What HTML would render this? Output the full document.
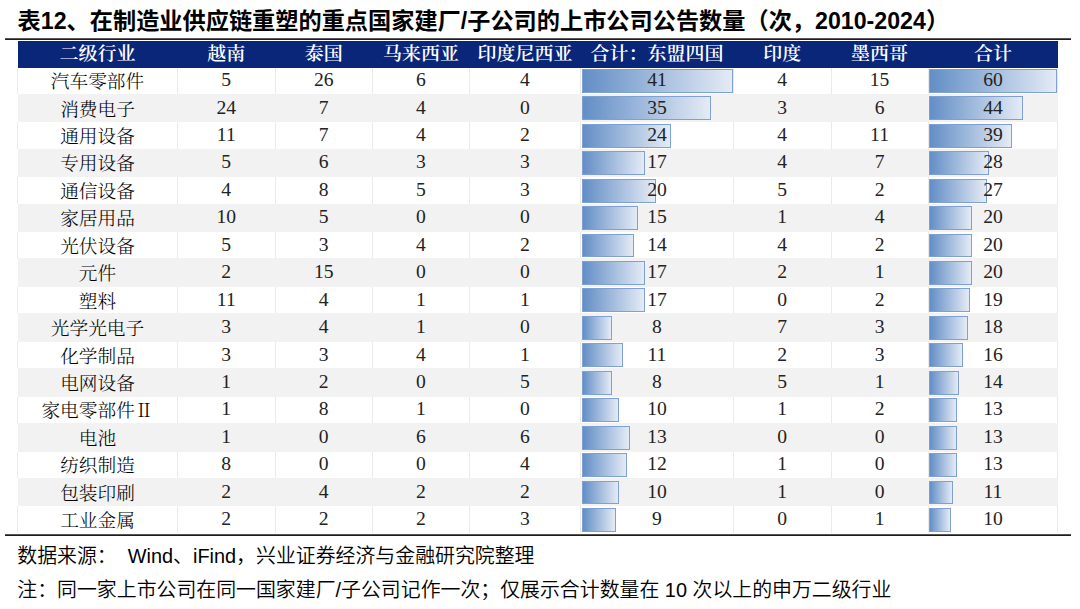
<!DOCTYPE html><html><head><meta charset="utf-8"><style>
*{margin:0;padding:0;box-sizing:border-box}
html,body{width:1080px;height:609px;background:#fff;overflow:hidden;position:relative}
.t{position:absolute;left:17.6px;top:5.8px;font:bold 23.2px/30px "Liberation Sans","Noto Sans CJK SC",sans-serif;color:#000;white-space:nowrap}
.ln{position:absolute;left:5px;width:1066px;height:1.3px;background:#1a1a1a}
.hd{position:absolute;top:41.10px;height:27.10px;background:#092679}
.hc{position:absolute;height:30px;line-height:30px;text-align:center;color:#fff;font-size:19.00px;font-family:"Liberation Serif","Noto Serif CJK SC",serif;font-weight:600;white-space:nowrap;transform:scaleY(0.93);margin-top:1.3px}
.g{position:absolute;background:#f2f2f2}
.v{position:absolute;width:1px;background:#eaeaea}
.c{position:absolute;height:30px;line-height:30px;text-align:center;white-space:nowrap;color:#222;font-size:19.60px;font-family:"Liberation Serif","Noto Serif CJK SC",serif}
.k{font-size:18.70px;font-family:"Liberation Serif","Noto Serif CJK SC",serif;font-weight:300;color:#000;margin-top:2px}
.b{position:absolute;border:1px solid #7fa0d2;background:linear-gradient(to right,#638ec6,#e4ebf5)}
.f{position:absolute;left:17.3px;font:350 19.9px/26px "Liberation Sans","Noto Sans CJK SC",sans-serif;color:#000;white-space:nowrap}

</style></head><body>
<div class="t">表12、在制造业供应链重塑的重点国家建厂/子公司的上市公司公告数量（次，2010-2024）</div>
<div class="ln" style="top:38.3px;height:1.6px;background:linear-gradient(#9a9a9a,#222 45%,#1a1a1a)"></div>
<div class="hd" style="left:17.50px;width:1040.30px"></div>
<div class="hc" style="left:17.50px;top:37.50px;width:160.00px">二级行业</div>
<div class="hc" style="left:177.50px;top:37.50px;width:97.50px">越南</div>
<div class="hc" style="left:275.00px;top:37.50px;width:97.40px">泰国</div>
<div class="hc" style="left:372.40px;top:37.50px;width:97.00px">马来西亚</div>
<div class="hc" style="left:469.40px;top:37.50px;width:111.20px">印度尼西亚</div>
<div class="hc" style="left:580.60px;top:37.50px;width:152.80px">合计：东盟四国</div>
<div class="hc" style="left:733.40px;top:37.50px;width:97.60px">印度</div>
<div class="hc" style="left:831.00px;top:37.50px;width:97.10px">墨西哥</div>
<div class="hc" style="left:928.10px;top:37.50px;width:129.70px">合计</div>
<div class="v" style="left:17.00px;top:68.20px;height:25.64px"></div>
<div class="v" style="left:177.00px;top:68.20px;height:25.64px"></div>
<div class="v" style="left:274.50px;top:68.20px;height:25.64px"></div>
<div class="v" style="left:371.90px;top:68.20px;height:25.64px"></div>
<div class="v" style="left:468.90px;top:68.20px;height:25.64px"></div>
<div class="v" style="left:580.10px;top:68.20px;height:25.64px"></div>
<div class="v" style="left:732.90px;top:68.20px;height:25.64px"></div>
<div class="v" style="left:830.50px;top:68.20px;height:25.64px"></div>
<div class="v" style="left:927.60px;top:68.20px;height:25.64px"></div>
<div class="v" style="left:1057.30px;top:68.20px;height:25.64px"></div>
<div class="g" style="left:17.50px;top:93.84px;width:1040.30px;height:28.40px"></div>
<div class="v" style="left:17.00px;top:122.24px;height:26.48px"></div>
<div class="v" style="left:177.00px;top:122.24px;height:26.48px"></div>
<div class="v" style="left:274.50px;top:122.24px;height:26.48px"></div>
<div class="v" style="left:371.90px;top:122.24px;height:26.48px"></div>
<div class="v" style="left:468.90px;top:122.24px;height:26.48px"></div>
<div class="v" style="left:580.10px;top:122.24px;height:26.48px"></div>
<div class="v" style="left:732.90px;top:122.24px;height:26.48px"></div>
<div class="v" style="left:830.50px;top:122.24px;height:26.48px"></div>
<div class="v" style="left:927.60px;top:122.24px;height:26.48px"></div>
<div class="v" style="left:1057.30px;top:122.24px;height:26.48px"></div>
<div class="g" style="left:17.50px;top:148.72px;width:1040.30px;height:28.40px"></div>
<div class="v" style="left:17.00px;top:177.12px;height:26.48px"></div>
<div class="v" style="left:177.00px;top:177.12px;height:26.48px"></div>
<div class="v" style="left:274.50px;top:177.12px;height:26.48px"></div>
<div class="v" style="left:371.90px;top:177.12px;height:26.48px"></div>
<div class="v" style="left:468.90px;top:177.12px;height:26.48px"></div>
<div class="v" style="left:580.10px;top:177.12px;height:26.48px"></div>
<div class="v" style="left:732.90px;top:177.12px;height:26.48px"></div>
<div class="v" style="left:830.50px;top:177.12px;height:26.48px"></div>
<div class="v" style="left:927.60px;top:177.12px;height:26.48px"></div>
<div class="v" style="left:1057.30px;top:177.12px;height:26.48px"></div>
<div class="g" style="left:17.50px;top:203.60px;width:1040.30px;height:28.40px"></div>
<div class="v" style="left:17.00px;top:232.00px;height:26.48px"></div>
<div class="v" style="left:177.00px;top:232.00px;height:26.48px"></div>
<div class="v" style="left:274.50px;top:232.00px;height:26.48px"></div>
<div class="v" style="left:371.90px;top:232.00px;height:26.48px"></div>
<div class="v" style="left:468.90px;top:232.00px;height:26.48px"></div>
<div class="v" style="left:580.10px;top:232.00px;height:26.48px"></div>
<div class="v" style="left:732.90px;top:232.00px;height:26.48px"></div>
<div class="v" style="left:830.50px;top:232.00px;height:26.48px"></div>
<div class="v" style="left:927.60px;top:232.00px;height:26.48px"></div>
<div class="v" style="left:1057.30px;top:232.00px;height:26.48px"></div>
<div class="g" style="left:17.50px;top:258.48px;width:1040.30px;height:28.40px"></div>
<div class="v" style="left:17.00px;top:286.88px;height:26.48px"></div>
<div class="v" style="left:177.00px;top:286.88px;height:26.48px"></div>
<div class="v" style="left:274.50px;top:286.88px;height:26.48px"></div>
<div class="v" style="left:371.90px;top:286.88px;height:26.48px"></div>
<div class="v" style="left:468.90px;top:286.88px;height:26.48px"></div>
<div class="v" style="left:580.10px;top:286.88px;height:26.48px"></div>
<div class="v" style="left:732.90px;top:286.88px;height:26.48px"></div>
<div class="v" style="left:830.50px;top:286.88px;height:26.48px"></div>
<div class="v" style="left:927.60px;top:286.88px;height:26.48px"></div>
<div class="v" style="left:1057.30px;top:286.88px;height:26.48px"></div>
<div class="g" style="left:17.50px;top:313.36px;width:1040.30px;height:28.40px"></div>
<div class="v" style="left:17.00px;top:341.76px;height:26.48px"></div>
<div class="v" style="left:177.00px;top:341.76px;height:26.48px"></div>
<div class="v" style="left:274.50px;top:341.76px;height:26.48px"></div>
<div class="v" style="left:371.90px;top:341.76px;height:26.48px"></div>
<div class="v" style="left:468.90px;top:341.76px;height:26.48px"></div>
<div class="v" style="left:580.10px;top:341.76px;height:26.48px"></div>
<div class="v" style="left:732.90px;top:341.76px;height:26.48px"></div>
<div class="v" style="left:830.50px;top:341.76px;height:26.48px"></div>
<div class="v" style="left:927.60px;top:341.76px;height:26.48px"></div>
<div class="v" style="left:1057.30px;top:341.76px;height:26.48px"></div>
<div class="g" style="left:17.50px;top:368.24px;width:1040.30px;height:28.40px"></div>
<div class="v" style="left:17.00px;top:396.64px;height:26.48px"></div>
<div class="v" style="left:177.00px;top:396.64px;height:26.48px"></div>
<div class="v" style="left:274.50px;top:396.64px;height:26.48px"></div>
<div class="v" style="left:371.90px;top:396.64px;height:26.48px"></div>
<div class="v" style="left:468.90px;top:396.64px;height:26.48px"></div>
<div class="v" style="left:580.10px;top:396.64px;height:26.48px"></div>
<div class="v" style="left:732.90px;top:396.64px;height:26.48px"></div>
<div class="v" style="left:830.50px;top:396.64px;height:26.48px"></div>
<div class="v" style="left:927.60px;top:396.64px;height:26.48px"></div>
<div class="v" style="left:1057.30px;top:396.64px;height:26.48px"></div>
<div class="g" style="left:17.50px;top:423.12px;width:1040.30px;height:28.40px"></div>
<div class="v" style="left:17.00px;top:451.52px;height:26.48px"></div>
<div class="v" style="left:177.00px;top:451.52px;height:26.48px"></div>
<div class="v" style="left:274.50px;top:451.52px;height:26.48px"></div>
<div class="v" style="left:371.90px;top:451.52px;height:26.48px"></div>
<div class="v" style="left:468.90px;top:451.52px;height:26.48px"></div>
<div class="v" style="left:580.10px;top:451.52px;height:26.48px"></div>
<div class="v" style="left:732.90px;top:451.52px;height:26.48px"></div>
<div class="v" style="left:830.50px;top:451.52px;height:26.48px"></div>
<div class="v" style="left:927.60px;top:451.52px;height:26.48px"></div>
<div class="v" style="left:1057.30px;top:451.52px;height:26.48px"></div>
<div class="g" style="left:17.50px;top:478.00px;width:1040.30px;height:28.40px"></div>
<div class="v" style="left:17.00px;top:506.40px;height:26.80px"></div>
<div class="v" style="left:177.00px;top:506.40px;height:26.80px"></div>
<div class="v" style="left:274.50px;top:506.40px;height:26.80px"></div>
<div class="v" style="left:371.90px;top:506.40px;height:26.80px"></div>
<div class="v" style="left:468.90px;top:506.40px;height:26.80px"></div>
<div class="v" style="left:580.10px;top:506.40px;height:26.80px"></div>
<div class="v" style="left:732.90px;top:506.40px;height:26.80px"></div>
<div class="v" style="left:830.50px;top:506.40px;height:26.80px"></div>
<div class="v" style="left:927.60px;top:506.40px;height:26.80px"></div>
<div class="v" style="left:1057.30px;top:506.40px;height:26.80px"></div>
<div class="b" style="left:582.00px;top:68.90px;width:150.90px;height:23.9px"></div>
<div class="b" style="left:929.30px;top:68.90px;width:127.50px;height:23.9px"></div>
<div class="c k" style="left:17.50px;top:65.15px;width:160.00px">汽车零部件</div>
<div class="c" style="left:177.50px;top:65.15px;width:97.50px">5</div>
<div class="c" style="left:275.00px;top:65.15px;width:97.40px">26</div>
<div class="c" style="left:372.40px;top:65.15px;width:97.00px">6</div>
<div class="c" style="left:469.40px;top:65.15px;width:111.20px">4</div>
<div class="c" style="left:580.60px;top:65.15px;width:152.80px">41</div>
<div class="c" style="left:733.40px;top:65.15px;width:97.60px">4</div>
<div class="c" style="left:831.00px;top:65.15px;width:97.10px">15</div>
<div class="c" style="left:928.10px;top:65.15px;width:129.70px">60</div>
<div class="b" style="left:582.00px;top:96.34px;width:128.89px;height:23.9px"></div>
<div class="b" style="left:929.30px;top:96.34px;width:93.50px;height:23.9px"></div>
<div class="c k" style="left:17.50px;top:92.59px;width:160.00px">消费电子</div>
<div class="c" style="left:177.50px;top:92.59px;width:97.50px">24</div>
<div class="c" style="left:275.00px;top:92.59px;width:97.40px">7</div>
<div class="c" style="left:372.40px;top:92.59px;width:97.00px">4</div>
<div class="c" style="left:469.40px;top:92.59px;width:111.20px">0</div>
<div class="c" style="left:580.60px;top:92.59px;width:152.80px">35</div>
<div class="c" style="left:733.40px;top:92.59px;width:97.60px">3</div>
<div class="c" style="left:831.00px;top:92.59px;width:97.10px">6</div>
<div class="c" style="left:928.10px;top:92.59px;width:129.70px">44</div>
<div class="b" style="left:582.00px;top:123.78px;width:88.54px;height:23.9px"></div>
<div class="b" style="left:929.30px;top:123.78px;width:82.88px;height:23.9px"></div>
<div class="c k" style="left:17.50px;top:120.03px;width:160.00px">通用设备</div>
<div class="c" style="left:177.50px;top:120.03px;width:97.50px">11</div>
<div class="c" style="left:275.00px;top:120.03px;width:97.40px">7</div>
<div class="c" style="left:372.40px;top:120.03px;width:97.00px">4</div>
<div class="c" style="left:469.40px;top:120.03px;width:111.20px">2</div>
<div class="c" style="left:580.60px;top:120.03px;width:152.80px">24</div>
<div class="c" style="left:733.40px;top:120.03px;width:97.60px">4</div>
<div class="c" style="left:831.00px;top:120.03px;width:97.10px">11</div>
<div class="c" style="left:928.10px;top:120.03px;width:129.70px">39</div>
<div class="b" style="left:582.00px;top:151.22px;width:62.86px;height:23.9px"></div>
<div class="b" style="left:929.30px;top:151.22px;width:59.50px;height:23.9px"></div>
<div class="c k" style="left:17.50px;top:147.47px;width:160.00px">专用设备</div>
<div class="c" style="left:177.50px;top:147.47px;width:97.50px">5</div>
<div class="c" style="left:275.00px;top:147.47px;width:97.40px">6</div>
<div class="c" style="left:372.40px;top:147.47px;width:97.00px">3</div>
<div class="c" style="left:469.40px;top:147.47px;width:111.20px">3</div>
<div class="c" style="left:580.60px;top:147.47px;width:152.80px">17</div>
<div class="c" style="left:733.40px;top:147.47px;width:97.60px">4</div>
<div class="c" style="left:831.00px;top:147.47px;width:97.10px">7</div>
<div class="c" style="left:928.10px;top:147.47px;width:129.70px">28</div>
<div class="b" style="left:582.00px;top:178.66px;width:73.87px;height:23.9px"></div>
<div class="b" style="left:929.30px;top:178.66px;width:57.38px;height:23.9px"></div>
<div class="c k" style="left:17.50px;top:174.91px;width:160.00px">通信设备</div>
<div class="c" style="left:177.50px;top:174.91px;width:97.50px">4</div>
<div class="c" style="left:275.00px;top:174.91px;width:97.40px">8</div>
<div class="c" style="left:372.40px;top:174.91px;width:97.00px">5</div>
<div class="c" style="left:469.40px;top:174.91px;width:111.20px">3</div>
<div class="c" style="left:580.60px;top:174.91px;width:152.80px">20</div>
<div class="c" style="left:733.40px;top:174.91px;width:97.60px">5</div>
<div class="c" style="left:831.00px;top:174.91px;width:97.10px">2</div>
<div class="c" style="left:928.10px;top:174.91px;width:129.70px">27</div>
<div class="b" style="left:582.00px;top:206.10px;width:55.52px;height:23.9px"></div>
<div class="b" style="left:929.30px;top:206.10px;width:42.50px;height:23.9px"></div>
<div class="c k" style="left:17.50px;top:202.35px;width:160.00px">家居用品</div>
<div class="c" style="left:177.50px;top:202.35px;width:97.50px">10</div>
<div class="c" style="left:275.00px;top:202.35px;width:97.40px">5</div>
<div class="c" style="left:372.40px;top:202.35px;width:97.00px">0</div>
<div class="c" style="left:469.40px;top:202.35px;width:111.20px">0</div>
<div class="c" style="left:580.60px;top:202.35px;width:152.80px">15</div>
<div class="c" style="left:733.40px;top:202.35px;width:97.60px">1</div>
<div class="c" style="left:831.00px;top:202.35px;width:97.10px">4</div>
<div class="c" style="left:928.10px;top:202.35px;width:129.70px">20</div>
<div class="b" style="left:582.00px;top:233.54px;width:51.86px;height:23.9px"></div>
<div class="b" style="left:929.30px;top:233.54px;width:42.50px;height:23.9px"></div>
<div class="c k" style="left:17.50px;top:229.79px;width:160.00px">光伏设备</div>
<div class="c" style="left:177.50px;top:229.79px;width:97.50px">5</div>
<div class="c" style="left:275.00px;top:229.79px;width:97.40px">3</div>
<div class="c" style="left:372.40px;top:229.79px;width:97.00px">4</div>
<div class="c" style="left:469.40px;top:229.79px;width:111.20px">2</div>
<div class="c" style="left:580.60px;top:229.79px;width:152.80px">14</div>
<div class="c" style="left:733.40px;top:229.79px;width:97.60px">4</div>
<div class="c" style="left:831.00px;top:229.79px;width:97.10px">2</div>
<div class="c" style="left:928.10px;top:229.79px;width:129.70px">20</div>
<div class="b" style="left:582.00px;top:260.98px;width:62.86px;height:23.9px"></div>
<div class="b" style="left:929.30px;top:260.98px;width:42.50px;height:23.9px"></div>
<div class="c k" style="left:17.50px;top:257.23px;width:160.00px">元件</div>
<div class="c" style="left:177.50px;top:257.23px;width:97.50px">2</div>
<div class="c" style="left:275.00px;top:257.23px;width:97.40px">15</div>
<div class="c" style="left:372.40px;top:257.23px;width:97.00px">0</div>
<div class="c" style="left:469.40px;top:257.23px;width:111.20px">0</div>
<div class="c" style="left:580.60px;top:257.23px;width:152.80px">17</div>
<div class="c" style="left:733.40px;top:257.23px;width:97.60px">2</div>
<div class="c" style="left:831.00px;top:257.23px;width:97.10px">1</div>
<div class="c" style="left:928.10px;top:257.23px;width:129.70px">20</div>
<div class="b" style="left:582.00px;top:288.42px;width:62.86px;height:23.9px"></div>
<div class="b" style="left:929.30px;top:288.42px;width:40.38px;height:23.9px"></div>
<div class="c k" style="left:17.50px;top:284.67px;width:160.00px">塑料</div>
<div class="c" style="left:177.50px;top:284.67px;width:97.50px">11</div>
<div class="c" style="left:275.00px;top:284.67px;width:97.40px">4</div>
<div class="c" style="left:372.40px;top:284.67px;width:97.00px">1</div>
<div class="c" style="left:469.40px;top:284.67px;width:111.20px">1</div>
<div class="c" style="left:580.60px;top:284.67px;width:152.80px">17</div>
<div class="c" style="left:733.40px;top:284.67px;width:97.60px">0</div>
<div class="c" style="left:831.00px;top:284.67px;width:97.10px">2</div>
<div class="c" style="left:928.10px;top:284.67px;width:129.70px">19</div>
<div class="b" style="left:582.00px;top:315.86px;width:29.85px;height:23.9px"></div>
<div class="b" style="left:929.30px;top:315.86px;width:38.25px;height:23.9px"></div>
<div class="c k" style="left:17.50px;top:312.11px;width:160.00px">光学光电子</div>
<div class="c" style="left:177.50px;top:312.11px;width:97.50px">3</div>
<div class="c" style="left:275.00px;top:312.11px;width:97.40px">4</div>
<div class="c" style="left:372.40px;top:312.11px;width:97.00px">1</div>
<div class="c" style="left:469.40px;top:312.11px;width:111.20px">0</div>
<div class="c" style="left:580.60px;top:312.11px;width:152.80px">8</div>
<div class="c" style="left:733.40px;top:312.11px;width:97.60px">7</div>
<div class="c" style="left:831.00px;top:312.11px;width:97.10px">3</div>
<div class="c" style="left:928.10px;top:312.11px;width:129.70px">18</div>
<div class="b" style="left:582.00px;top:343.30px;width:40.85px;height:23.9px"></div>
<div class="b" style="left:929.30px;top:343.30px;width:34.00px;height:23.9px"></div>
<div class="c k" style="left:17.50px;top:339.55px;width:160.00px">化学制品</div>
<div class="c" style="left:177.50px;top:339.55px;width:97.50px">3</div>
<div class="c" style="left:275.00px;top:339.55px;width:97.40px">3</div>
<div class="c" style="left:372.40px;top:339.55px;width:97.00px">4</div>
<div class="c" style="left:469.40px;top:339.55px;width:111.20px">1</div>
<div class="c" style="left:580.60px;top:339.55px;width:152.80px">11</div>
<div class="c" style="left:733.40px;top:339.55px;width:97.60px">2</div>
<div class="c" style="left:831.00px;top:339.55px;width:97.10px">3</div>
<div class="c" style="left:928.10px;top:339.55px;width:129.70px">16</div>
<div class="b" style="left:582.00px;top:370.74px;width:29.85px;height:23.9px"></div>
<div class="b" style="left:929.30px;top:370.74px;width:29.75px;height:23.9px"></div>
<div class="c k" style="left:17.50px;top:366.99px;width:160.00px">电网设备</div>
<div class="c" style="left:177.50px;top:366.99px;width:97.50px">1</div>
<div class="c" style="left:275.00px;top:366.99px;width:97.40px">2</div>
<div class="c" style="left:372.40px;top:366.99px;width:97.00px">0</div>
<div class="c" style="left:469.40px;top:366.99px;width:111.20px">5</div>
<div class="c" style="left:580.60px;top:366.99px;width:152.80px">8</div>
<div class="c" style="left:733.40px;top:366.99px;width:97.60px">5</div>
<div class="c" style="left:831.00px;top:366.99px;width:97.10px">1</div>
<div class="c" style="left:928.10px;top:366.99px;width:129.70px">14</div>
<div class="b" style="left:582.00px;top:398.18px;width:37.18px;height:23.9px"></div>
<div class="b" style="left:929.30px;top:398.18px;width:27.62px;height:23.9px"></div>
<div class="c k" style="left:17.50px;top:394.43px;width:160.00px">家电零部件Ⅱ</div>
<div class="c" style="left:177.50px;top:394.43px;width:97.50px">1</div>
<div class="c" style="left:275.00px;top:394.43px;width:97.40px">8</div>
<div class="c" style="left:372.40px;top:394.43px;width:97.00px">1</div>
<div class="c" style="left:469.40px;top:394.43px;width:111.20px">0</div>
<div class="c" style="left:580.60px;top:394.43px;width:152.80px">10</div>
<div class="c" style="left:733.40px;top:394.43px;width:97.60px">1</div>
<div class="c" style="left:831.00px;top:394.43px;width:97.10px">2</div>
<div class="c" style="left:928.10px;top:394.43px;width:129.70px">13</div>
<div class="b" style="left:582.00px;top:425.62px;width:48.19px;height:23.9px"></div>
<div class="b" style="left:929.30px;top:425.62px;width:27.62px;height:23.9px"></div>
<div class="c k" style="left:17.50px;top:421.87px;width:160.00px">电池</div>
<div class="c" style="left:177.50px;top:421.87px;width:97.50px">1</div>
<div class="c" style="left:275.00px;top:421.87px;width:97.40px">0</div>
<div class="c" style="left:372.40px;top:421.87px;width:97.00px">6</div>
<div class="c" style="left:469.40px;top:421.87px;width:111.20px">6</div>
<div class="c" style="left:580.60px;top:421.87px;width:152.80px">13</div>
<div class="c" style="left:733.40px;top:421.87px;width:97.60px">0</div>
<div class="c" style="left:831.00px;top:421.87px;width:97.10px">0</div>
<div class="c" style="left:928.10px;top:421.87px;width:129.70px">13</div>
<div class="b" style="left:582.00px;top:453.06px;width:44.52px;height:23.9px"></div>
<div class="b" style="left:929.30px;top:453.06px;width:27.62px;height:23.9px"></div>
<div class="c k" style="left:17.50px;top:449.31px;width:160.00px">纺织制造</div>
<div class="c" style="left:177.50px;top:449.31px;width:97.50px">8</div>
<div class="c" style="left:275.00px;top:449.31px;width:97.40px">0</div>
<div class="c" style="left:372.40px;top:449.31px;width:97.00px">0</div>
<div class="c" style="left:469.40px;top:449.31px;width:111.20px">4</div>
<div class="c" style="left:580.60px;top:449.31px;width:152.80px">12</div>
<div class="c" style="left:733.40px;top:449.31px;width:97.60px">1</div>
<div class="c" style="left:831.00px;top:449.31px;width:97.10px">0</div>
<div class="c" style="left:928.10px;top:449.31px;width:129.70px">13</div>
<div class="b" style="left:582.00px;top:480.50px;width:37.18px;height:23.9px"></div>
<div class="b" style="left:929.30px;top:480.50px;width:23.38px;height:23.9px"></div>
<div class="c k" style="left:17.50px;top:476.75px;width:160.00px">包装印刷</div>
<div class="c" style="left:177.50px;top:476.75px;width:97.50px">2</div>
<div class="c" style="left:275.00px;top:476.75px;width:97.40px">4</div>
<div class="c" style="left:372.40px;top:476.75px;width:97.00px">2</div>
<div class="c" style="left:469.40px;top:476.75px;width:111.20px">2</div>
<div class="c" style="left:580.60px;top:476.75px;width:152.80px">10</div>
<div class="c" style="left:733.40px;top:476.75px;width:97.60px">1</div>
<div class="c" style="left:831.00px;top:476.75px;width:97.10px">0</div>
<div class="c" style="left:928.10px;top:476.75px;width:129.70px">11</div>
<div class="b" style="left:582.00px;top:507.94px;width:33.51px;height:23.9px"></div>
<div class="b" style="left:929.30px;top:507.94px;width:21.25px;height:23.9px"></div>
<div class="c k" style="left:17.50px;top:504.19px;width:160.00px">工业金属</div>
<div class="c" style="left:177.50px;top:504.19px;width:97.50px">2</div>
<div class="c" style="left:275.00px;top:504.19px;width:97.40px">2</div>
<div class="c" style="left:372.40px;top:504.19px;width:97.00px">2</div>
<div class="c" style="left:469.40px;top:504.19px;width:111.20px">3</div>
<div class="c" style="left:580.60px;top:504.19px;width:152.80px">9</div>
<div class="c" style="left:733.40px;top:504.19px;width:97.60px">0</div>
<div class="c" style="left:831.00px;top:504.19px;width:97.10px">1</div>
<div class="c" style="left:928.10px;top:504.19px;width:129.70px">10</div>
<div class="ln" style="top:534.2px;height:1.6px;background:linear-gradient(#aaa,#222 40%,#1a1a1a)"></div>
<div class="f" style="top:542.9px">数据来源：&nbsp;&nbsp;Wind、iFind，兴业证券经济与金融研究院整理</div>
<div class="f" style="top:576.8px">注：同一家上市公司在同一国家建厂/子公司记作一次；仅展示合计数量在 10 次以上的申万二级行业</div>
</body></html>
